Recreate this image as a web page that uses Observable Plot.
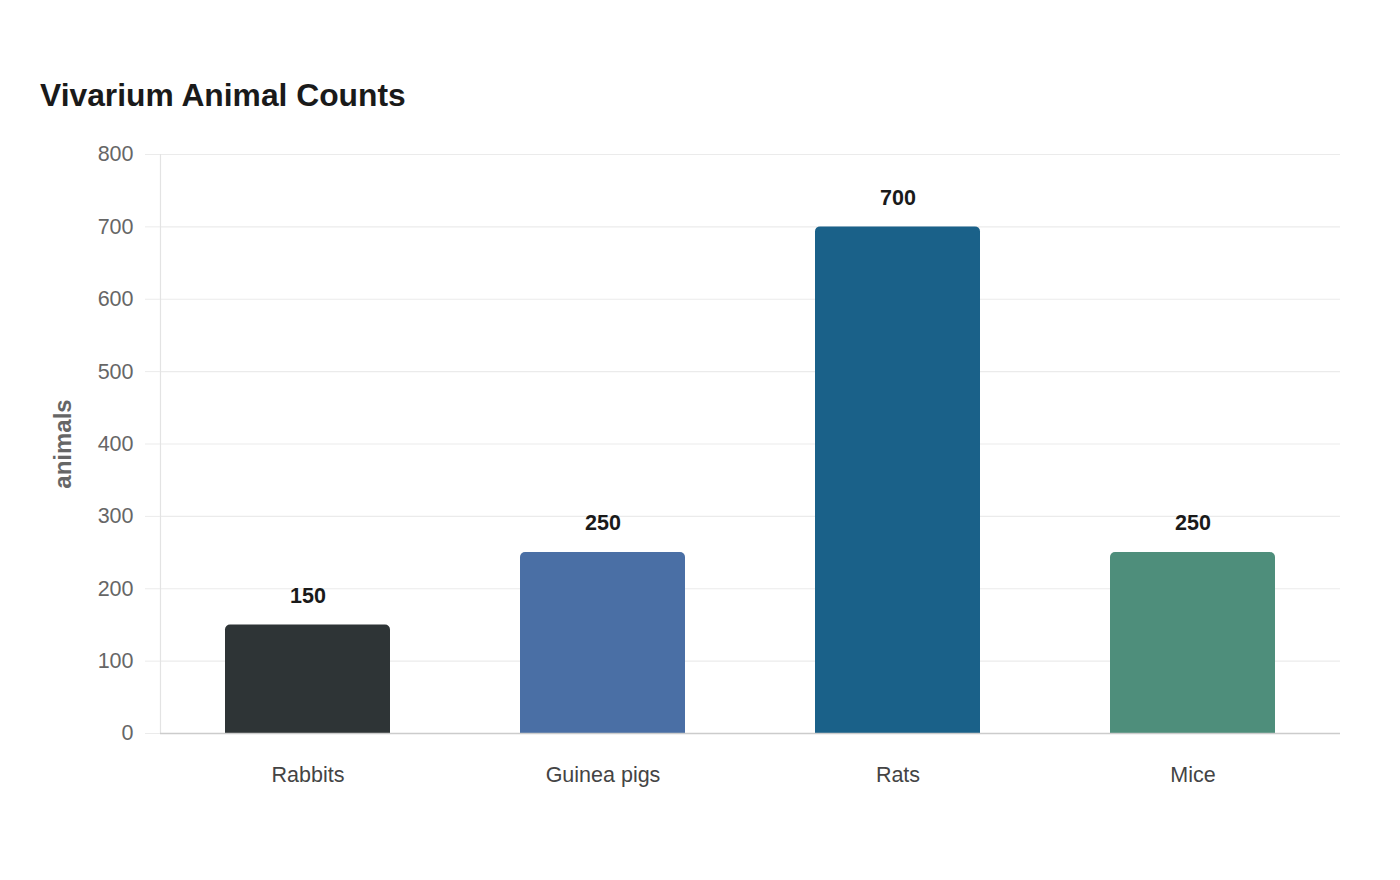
<!DOCTYPE html>
<html>
<head>
<meta charset="utf-8">
<script src="https://cdn.jsdelivr.net/npm/d3@7"></script>
<script src="https://cdn.jsdelivr.net/npm/@observablehq/plot@0.6"></script>
<style>
  html, body { margin: 0; padding: 0; background: #ffffff; }
  body { width: 1400px; height: 880px; position: relative; font-family: "Liberation Sans", Arial, sans-serif; }
  #title { position: absolute; left: 40px; top: 79px; font-size: 31.8px; line-height: 32px; font-weight: bold; color: #1a1a1a; }
  #chart { position: absolute; left: 0; top: 0; }
</style>
</head>
<body>
<div id="title">Vivarium Animal Counts</div>
<div id="chart"></div>
<script>
const categories = ["Rabbits", "Guinea pigs", "Rats", "Mice"];
const counts = [150, 250, 700, 250];
const colors = ["#2e3436", "#4a6fa5", "#1a6189", "#4e8e7b"];
const yTicks = [0, 100, 200, 300, 400, 500, 600, 700, 800];

const data = categories.map((c, i) => ({category: c, count: counts[i], color: colors[i]}));

const chart = Plot.plot({
  width: 1400,
  height: 880,
  marginTop: 154,
  marginBottom: 147,
  marginLeft: 160,
  marginRight: 60,
  style: {fontFamily: "'Liberation Sans', Arial, sans-serif", background: "transparent"},
  x: {domain: categories, paddingInner: 0.44, paddingOuter: 0.22, label: null},
  y: {domain: [0, 800], label: null},
  marks: [
    Plot.gridY(yTicks, {stroke: "#ebebeb", strokeOpacity: 1, strokeWidth: 1.2}),
    Plot.frame({anchor: "left", stroke: "#e3e3e3", strokeWidth: 1.2}),
    Plot.axisY(yTicks, {tickSize: 15, tickPadding: 12, stroke: "#ebebeb", strokeOpacity: 1, fill: "#666666", fontSize: 21.5, label: null}),
    Plot.axisX({tickSize: 0, tickPadding: 33, fill: "#444444", fontSize: 21.5, label: null}),
    Plot.barY(data, {x: "category", y: "count", fill: "color", ry1: 5}),
    Plot.ruleY([0], {stroke: "#cccccc", strokeWidth: 1.5}),
    Plot.text(data, {x: "category", y: "count", text: d => String(d.count), dy: -29, fontSize: 21.5, fontWeight: "bold", fill: "#1a1a1a"}),
    Plot.text(["animals"], {frameAnchor: "left", textAnchor: "middle", dx: -97, rotate: -90, fontSize: 24, fontWeight: "bold", fill: "#666666"})
  ]
});
document.getElementById("chart").appendChild(chart);
</script>
</body>
</html>
